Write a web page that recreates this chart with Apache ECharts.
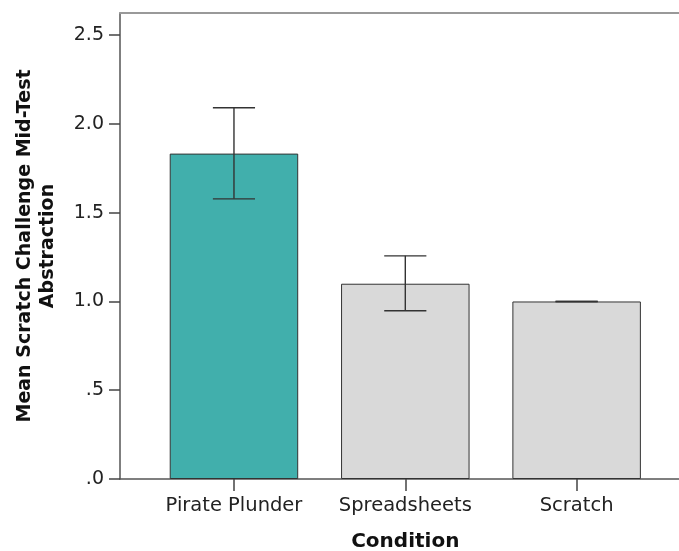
<!DOCTYPE html>
<html><head><meta charset="utf-8">
<script src="https://cdn.jsdelivr.net/npm/echarts@6/dist/echarts.min.js"></script>
<style>html,body{margin:0;padding:0;background:#fff}#c{width:679px;height:551px}</style>
</head><body><div id="c"></div>
<script>
const categories = ['Pirate Plunder', 'Spreadsheets', 'Scratch'];
const means = [1.833, 1.100, 1.000];
const errLow = [1.578, 0.948, 1.000];
const errHigh = [2.091, 1.257, 1.000];
const barColors = ['#41AFAC', '#D9D9D9', '#D9D9D9'];
const yTickValues = [0, 0.5, 1.0, 1.5, 2.0, 2.5];
const yTickLabels = ['.0', '.5', '1.0', '1.5', '2.0', '2.5'];
const yMin = 0, yMax = 2.625;
const yTitle = 'Mean Scratch Challenge Mid-Test\nAbstraction';
const xTitle = 'Condition';

const FONT = 'DejaVu Sans';
const chart = echarts.init(document.getElementById('c'), null, {renderer: 'canvas'});

const labelMap = {};
yTickValues.forEach((v, i) => { labelMap[v.toFixed(3)] = yTickLabels[i]; });

chart.setOption({
  animation: false,
  backgroundColor: '#ffffff',
  grid: [
    {left: 120, right: -5, top: 13, bottom: 72, containLabel: false, outerBoundsMode: 'none'},
    {left: 148.3, right: 16.7, top: 13, bottom: 72, containLabel: false, outerBoundsMode: 'none'}
  ],
  xAxis: [
    {gridIndex: 0, type: 'value', min: 0, max: 1, position: 'bottom',
     axisLine: {show: true, lineStyle: {color: '#555', width: 1.5}},
     axisTick: {show: false}, axisLabel: {show: false}, splitLine: {show: false}},
    {gridIndex: 0, type: 'value', min: 0, max: 1, position: 'top',
     axisLine: {show: true, lineStyle: {color: '#999', width: 2}},
     axisTick: {show: false}, axisLabel: {show: false}, splitLine: {show: false}},
    {gridIndex: 1, type: 'category', data: categories, position: 'bottom',
     axisLine: {show: false},
     axisTick: {show: true, length: 12, alignWithLabel: true, lineStyle: {color: '#444', width: 1.5}},
     axisLabel: {fontFamily: FONT, fontSize: 19.5, color: '#222', margin: 17, interval: 0, hideOverlap: false},
     name: xTitle, nameLocation: 'middle', nameGap: 53,
     nameTextStyle: {fontFamily: FONT, fontSize: 20, fontWeight: 'bold', color: '#111'}}
  ],
  yAxis: [
    {gridIndex: 0, type: 'value', min: yMin, max: yMax, interval: 0.5,
     axisLine: {show: true, lineStyle: {color: '#555', width: 1.5}},
     axisTick: {show: true, length: 11, customValues: yTickValues, lineStyle: {color: '#444', width: 1.5}},
     axisLabel: {customValues: yTickValues, fontFamily: FONT, fontSize: 19, color: '#222', margin: 16,
       formatter: v => labelMap[Number(v).toFixed(3)] || ''},
     splitLine: {show: false},
     name: yTitle, nameLocation: 'middle', nameRotate: 90, nameGap: 60,
     nameTextStyle: {fontFamily: FONT, fontSize: 19, fontWeight: 'bold', color: '#111', lineHeight: 23, align: 'center'}},
    {gridIndex: 1, type: 'value', min: yMin, max: yMax, show: false}
  ],
  series: [
    {type: 'bar', xAxisIndex: 2, yAxisIndex: 1, barWidth: '75%',
     data: means.map((m, i) => ({value: m, itemStyle: {color: barColors[i], borderColor: '#333', borderWidth: 1}}))},
    {type: 'custom', xAxisIndex: 2, yAxisIndex: 1, z: 5,
     data: categories.map((c, i) => [i, errLow[i], errHigh[i]]),
     encode: {x: 0, y: [1, 2]},
     renderItem: function (params, api) {
       const x = api.value(0);
       const lo = api.coord([x, api.value(1)]);
       const hi = api.coord([x, api.value(2)]);
       const hw = api.size([1, 0])[0] * 0.123;
       const st = {stroke: '#333', lineWidth: 1.4};
       return {type: 'group', children: [
         {type: 'line', shape: {x1: lo[0], y1: lo[1], x2: hi[0], y2: hi[1]}, style: st},
         {type: 'line', shape: {x1: hi[0] - hw, y1: hi[1], x2: hi[0] + hw, y2: hi[1]}, style: st},
         {type: 'line', shape: {x1: lo[0] - hw, y1: lo[1], x2: lo[0] + hw, y2: lo[1]}, style: st}
       ]};
     }}
  ]
});
</script></body></html>
